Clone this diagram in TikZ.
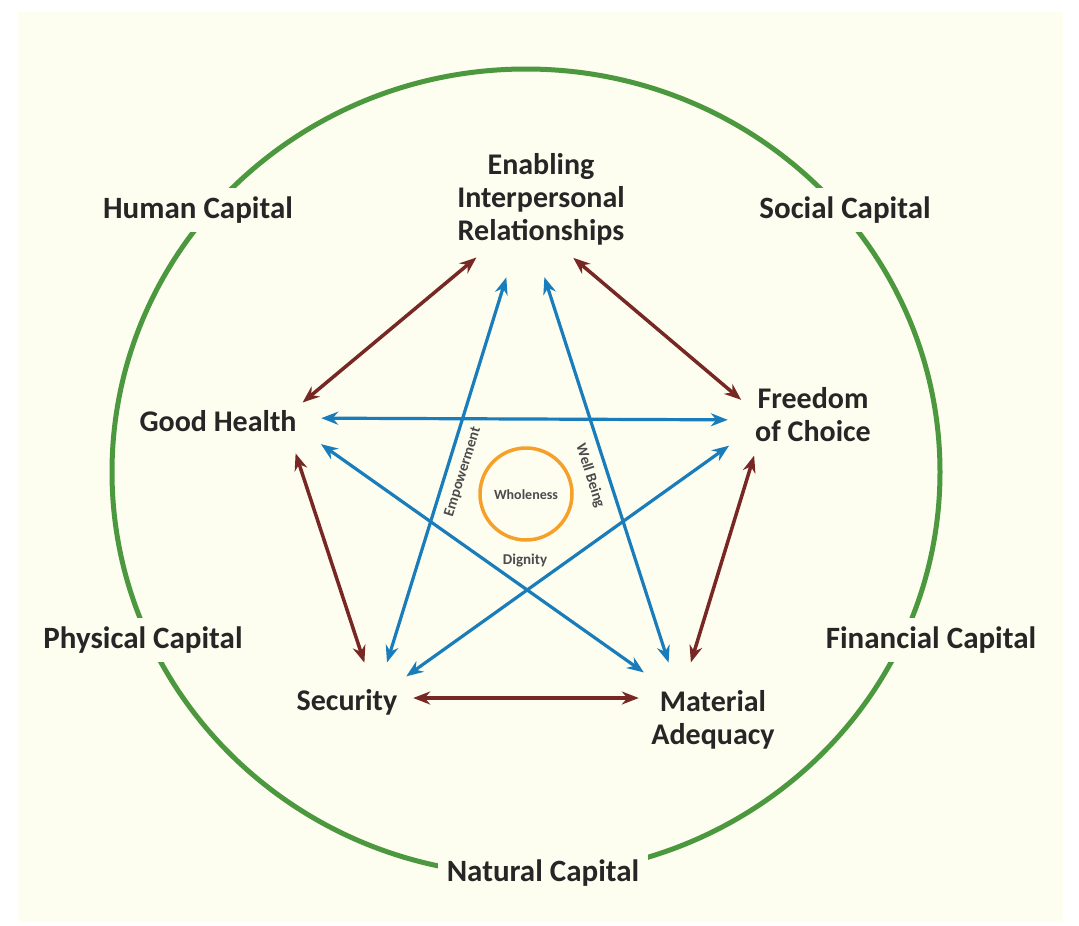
\documentclass[tikz,border=0pt]{standalone}
\usepackage{fontspec}
\setmainfont{Carlito}
\usetikzlibrary{arrows.meta}
\definecolor{creambg}{RGB}{253,253,240}
\definecolor{ringgreen}{RGB}{76,152,62}
\definecolor{linkbrown}{RGB}{120,40,36}
\definecolor{linkblue}{RGB}{25,125,187}
\definecolor{coreorange}{RGB}{246,160,42}
\definecolor{labelgray}{RGB}{38,38,38}

\begin{document}
\begin{tikzpicture}[x=1pt,y=-1pt,
  every node/.style={text=labelgray},
  need/.style={align=center,font=\fontsize{30}{33}\selectfont\bfseries},
  capital/.style={fill=creambg,inner sep=9pt,font=\fontsize{31}{33}\selectfont\bfseries},
  hub/.style={circle,minimum size=74pt,inner sep=0pt},
  smalltag/.style={font=\fontsize{15}{16}\selectfont\bfseries,text=black!70,inner sep=1pt},
  sidelink/.style={draw=linkbrown,line width=3.5pt,{Stealth[length=17pt,width=13pt]}-{Stealth[length=17pt,width=13pt]}},
  crosslink/.style={draw=linkblue,line width=3.2pt,{Stealth[length=17pt,width=13pt]}-{Stealth[length=17pt,width=13pt]}}]
  \useasboundingbox (0,0) rectangle (1079,926);
  \fill[white] (0,0) rectangle (1079,926);
  \fill[creambg] (18,12) rectangle (1063,922);
  \draw[ringgreen,line width=5pt] (526,472) ellipse [x radius=414pt,y radius=403pt];

  % capitals on the ring
  \node[capital] (human) at (198,210) {Human Capital};
  \node[capital] (social) at (845,210) {Social Capital};
  \node[capital] (physical) at (143,640) {Physical Capital};
  \node[capital] (financial) at (931,640) {Financial Capital};
  \node[capital] (natural) at (543,873) {Natural Capital};

  % corners of the pentagon
  \node[hub,minimum size=126pt] (eir) at (525,217) {};
  \node[hub] (gh) at (284,418) {};
  \node[hub] (foc) at (765,420) {};
  \node[hub] (sec) at (376,698) {};
  \node[hub] (ma) at (680,698) {};

  \node[need] (eirtext) at (541,199) {Enabling\\Interpersonal\\Relationships};
  \node[need] (ghtext) at (218,421) {Good Health};
  \node[need] (foctext) at (813,415) {Freedom\\of Choice};
  \node[need] (sectext) at (347,702) {Security};
  \node[need] (matext) at (713,720) {Material\\Adequacy};

  % pentagon
  \draw[sidelink,shorten >=-13pt] (eir) -- (gh);
  \draw[sidelink,shorten >=-6pt] (eir) -- (foc);
  \draw[sidelink] (gh) -- (sec);
  \draw[sidelink] (foc) -- (ma);
  \draw[sidelink,shorten >=4pt] (sec) -- (ma);
  % star
  \draw[crosslink] (gh) -- (foc);
  \draw[crosslink,shorten <=8pt,shorten >=7pt] (gh) -- (ma);
  \draw[crosslink,shorten <=7pt] (foc) -- (sec);
  \draw[crosslink] (eir) -- (sec);
  \draw[crosslink] (eir) -- (ma);

  % centre
  \draw[coreorange,line width=3.5pt] (526,494) circle [radius=46pt];
  \node[smalltag,font=\fontsize{14}{15}\selectfont\bfseries] (whole) at (526,495) {Wholeness};
  \node[smalltag,rotate=72.6] (empower) at (463,472) {Empowerment};
  \node[smalltag,rotate=-72.3] (wellbeing) at (590,476) {Well Being};
  \node[smalltag] (dignity) at (525,561) {Dignity};
\end{tikzpicture}
\end{document}
